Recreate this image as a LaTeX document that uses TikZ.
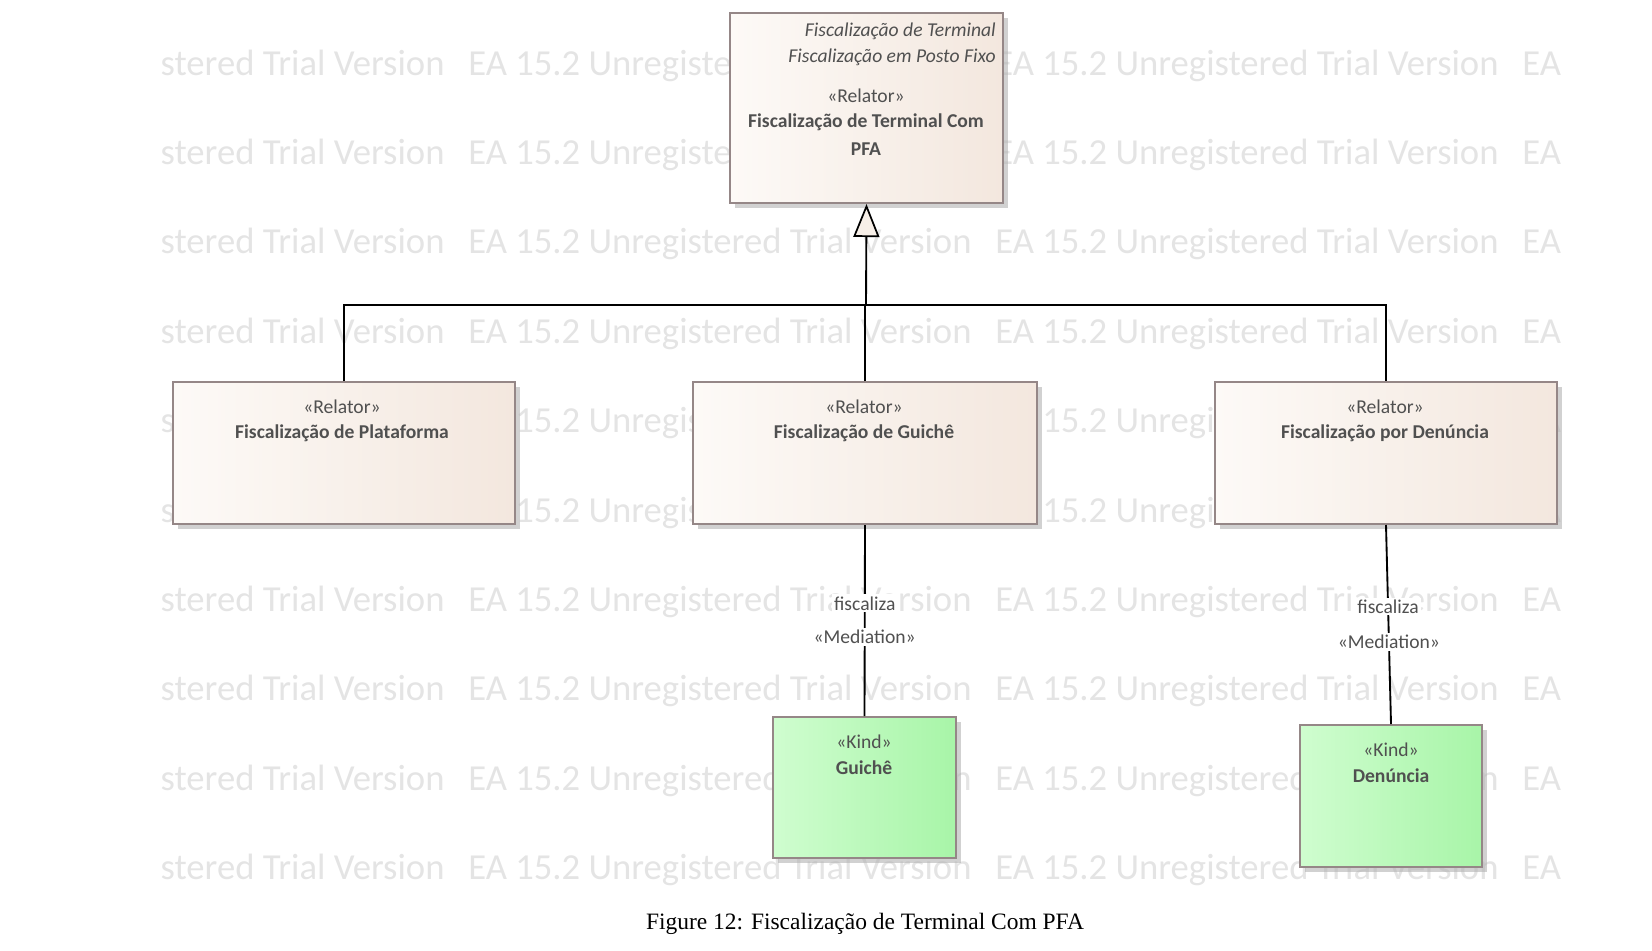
\documentclass[tikz,border=0pt]{standalone}
\usepackage{fontspec}
\setmainfont{Carlito}
\newfontfamily\capfont{Liberation Serif}
\usetikzlibrary{arrows.meta,fit,shadows}
\definecolor{relL}{HTML}{FDFAF7}
\definecolor{relR}{HTML}{F3E7DE}
\definecolor{kindL}{HTML}{CFFDCF}
\definecolor{kindR}{HTML}{A8F5A8}
\definecolor{bord}{HTML}{958787}
\definecolor{txt}{HTML}{505050}
\definecolor{wm}{HTML}{E4E4E4}
\definecolor{trifill}{HTML}{F7EFE8}
\tikzset{
  boxbase/.style={draw=bord, line width=1.5pt, inner sep=0pt,
    drop shadow={shadow xshift=3.5pt, shadow yshift=-3.5pt, fill=gray!60, opacity=0.6}},
  relbox/.style={boxbase, left color=relL, right color=relR},
  kindbox/.style={boxbase, left color=kindL, right color=kindR},
  stereo/.style={text=txt, font=\fontsize{14.7}{17}\selectfont, inner sep=0pt},
  bname/.style={text=txt, font=\fontsize{14.7}{17}\selectfont\bfseries, inner sep=0pt},
  ital/.style={text=txt, font=\fontsize{14.7}{17}\selectfont\itshape, inner sep=0pt, anchor=east},
  conn/.style={draw=black, line width=1.4pt},
  medlabel/.style={fill=white, text=txt, font=\fontsize{14.7}{17}\selectfont, inner sep=1.5pt},
  wmtext/.style={text=wm, font=\fontsize{27.5}{30}\selectfont, anchor=base west, inner sep=0pt},
}
\begin{document}
\begin{tikzpicture}[x=0.75pt, y=-0.75pt]
\useasboundingbox (0,0) rectangle (1652,950);
% watermark
\begin{scope}
\clip (161,0) rectangle (1566,950);
\foreach \yy in {75,164.4,253.8,343.2,432.6,522,611.4,700.8,790.2,879.6}{
  \foreach \xx in {-59,468,995,1522}{
    \node[wmtext] at (\xx,\yy) {EA 15.2 Unregistered Trial Version};
  }
}
\end{scope}
% boxes
\node[relbox, fit={(730,13) (1003,203)}] (top) {};
\node[relbox, fit={(173,382) (515,524)}] (plat) {};
\node[relbox, fit={(693,382) (1037,524)}] (gui) {};
\node[relbox, fit={(1215,382) (1557,524)}] (den) {};
\node[kindbox, fit={(773,717) (956,858)}] (kg) {};
\node[kindbox, fit={(1300,725) (1482,867)}] (kd) {};
% texts
\node[ital] (t1) at (996,31) {Fiscalização de Terminal};
\node[ital] (t2) at (996,57) {Fiscalização em Posto Fixo};
\node[stereo] (t3) at (866,96) {«Relator»};
\node[bname] (t4) at (866,122) {Fiscalização de Terminal Com};
\node[bname] (t5) at (866,149) {PFA};
\node[stereo] (p1) at (342,407) {«Relator»};
\node[bname] (p2) at (342,433) {Fiscalização de Plataforma};
\node[stereo] (g1) at (864,407) {«Relator»};
\node[bname] (g2) at (864,433) {Fiscalização de Guichê};
\node[stereo] (d1) at (1385,407) {«Relator»};
\node[bname] (d2) at (1385,433) {Fiscalização por Denúncia};
\node[stereo] (k1) at (864,742) {«Kind»};
\node[bname] (k2) at (864,768) {Guichê};
\node[stereo] (k3) at (1391,750) {«Kind»};
\node[bname] (k4) at (1391,776) {Denúncia};
% generalization
\coordinate (bus) at (866,305);
\draw[conn] (plat.north) |- (den.north |- bus) -- (den.north);
\draw[conn] (gui.north) -- (gui.north |- bus);
\draw[conn, -{Triangle[length=24.75pt, width=19.5pt, line width=1.3pt, fill=trifill]}] (bus) -- (top.south);
% mediations
\draw[conn] (gui.south) -- (kg.north)
  node[medlabel, pos=0.41] (m1) {fiscaliza}
  node[medlabel, pos=0.585] (m2) {«Mediation»};
\draw[conn] (den.south) -- (kd.north)
  node[medlabel, pos=0.41] (m3) {fiscaliza}
  node[medlabel, pos=0.587] (m4) {«Mediation»};
% caption
\node[font=\capfont\fontsize{17.6}{20}\selectfont, inner sep=0pt] (cap) at (865,924) {Figure 12: Fiscalização de Terminal Com PFA};
\end{tikzpicture}
\end{document}
